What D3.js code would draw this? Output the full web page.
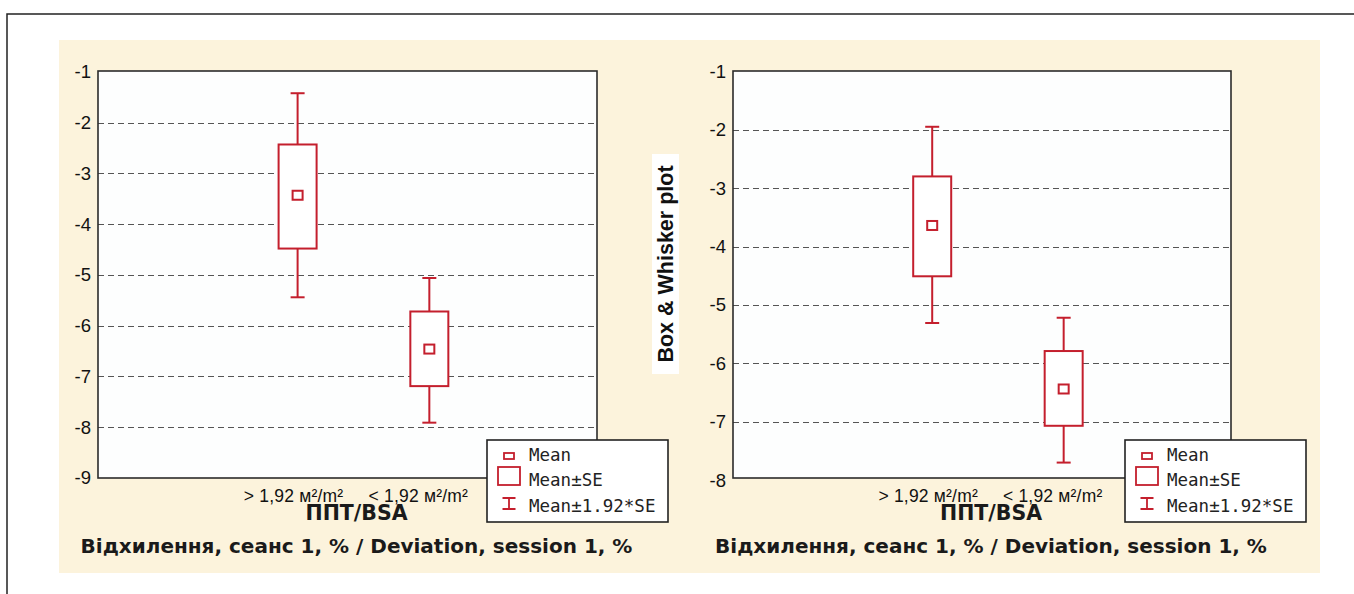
<!DOCTYPE html>
<html>
<head>
<meta charset="utf-8">
<script src="https://cdn.jsdelivr.net/npm/d3@7"></script>
<style>
	body { margin: 0; background: #fff; }
	svg { display: block; }
</style>
</head>
<body>
<div id="main"></div>
<script>
var WIDTH = 1354, HEIGHT = 594;

// categories and tick labels
var categories = ["> 1,92 м²/m²", "< 1,92 м²/m²"];
var legendLabels = ["Mean", "Mean±SE", "Mean±1.92*SE"];
var leftTicks = [-1, -2, -3, -4, -5, -6, -7, -8, -9];
var rightTicks = [-1, -2, -3, -4, -5, -6, -7, -8];

// left chart values
var leftMean   = [-3.43, -6.46];
var leftSeHi   = [-2.43, -5.72];
var leftSeLo   = [-4.48, -7.19];
var leftCiHi   = [-1.42, -5.06];
var leftCiLo   = [-5.44, -7.91];

// right chart values
var rightMean  = [-3.64, -6.44];
var rightSeHi  = [-2.80, -5.79];
var rightSeLo  = [-4.51, -7.07];
var rightCiHi  = [-1.95, -5.22];
var rightCiLo  = [-5.31, -7.70];

var RED = "#c41f2d";
var xTitle = "ППТ/BSA";
var subTitle = "Відхилення, сеанс 1, % / Deviation, session 1, %";

var svg = d3.select("#main").append("svg")
	.attr("width", WIDTH)
	.attr("height", HEIGHT);

// outer frame
svg.append("rect")
	.attr("x", 7).attr("y", 14)
	.attr("width", WIDTH + 20).attr("height", HEIGHT + 20)
	.attr("fill", "#fff")
	.attr("stroke", "#222")
	.attr("stroke-width", 1.5);

// beige panel
svg.append("rect")
	.attr("x", 59).attr("y", 40)
	.attr("width", 1261).attr("height", 533)
	.attr("fill", "#fcf3dc");

function drawPanel(p) {
	var g = svg.append("g");
	var w = p.x1 - p.x0;

	var y = d3.scaleLinear().domain([p.ticks[p.ticks.length - 1], -1]).range([p.yBottom, p.yTop]);
	var x = d3.scalePoint().domain(categories).range([p.x0 + 0.4 * w, p.x0 + 0.664 * w]);
	var xl = d3.scalePoint().domain(categories).range([p.x0 + 0.392 * w, p.x0 + 0.642 * w]);

	// plot area
	g.append("rect")
		.attr("x", p.x0).attr("y", p.fTop)
		.attr("width", w).attr("height", p.fBottom - p.fTop)
		.attr("fill", "#fdfefe");

	// grid
	g.append("g").selectAll("line")
		.data(p.ticks.slice(1, -1))
		.enter().append("line")
			.attr("x1", p.x0).attr("x2", p.x1)
			.attr("y1", function(d) { return Math.round(y(d)) + 0.5; })
			.attr("y2", function(d) { return Math.round(y(d)) + 0.5; })
			.attr("stroke", "#555")
			.attr("stroke-width", 1.2)
			.attr("stroke-dasharray", "6,4");

	g.append("rect")
		.attr("x", p.x0).attr("y", p.fTop)
		.attr("width", w).attr("height", p.fBottom - p.fTop)
		.attr("fill", "none")
		.attr("stroke", "#2b2b2b")
		.attr("stroke-width", 1.6);

	// y axis labels
	var yAxis = d3.axisLeft(y).tickValues(p.ticks).tickSize(0).tickPadding(7)
		.tickFormat(function(d) { return "-" + Math.abs(d); });
	var ax = g.append("g")
		.attr("transform", "translate(" + p.x0 + ",0)")
		.call(yAxis);
	ax.select(".domain").remove();
	ax.selectAll("text")
		.attr("font-family", "Liberation Sans, Arial, sans-serif")
		.attr("font-size", "18.5px")
		.attr("fill", "#111");

	// x labels
	g.append("g").selectAll("text")
		.data(categories)
		.enter().append("text")
			.attr("x", function(d) { return xl(d); })
			.attr("y", p.fBottom + 24)
			.attr("text-anchor", "middle")
			.attr("font-family", "Liberation Sans, Arial, sans-serif")
			.attr("font-size", "17.5px")
			.attr("letter-spacing", "0.2px")
			.attr("fill", "#111")
			.text(function(d) { return d; });

	// boxes
	var rows = categories.map(function(c, i) {
		return { c: c, mean: p.mean[i], seHi: p.seHi[i], seLo: p.seLo[i], ciHi: p.ciHi[i], ciLo: p.ciLo[i] };
	});
	var box = g.append("g").selectAll("g").data(rows).enter().append("g");
	var BW = 38, CW = 14;

	box.append("line")
		.attr("x1", function(d) { return x(d.c); }).attr("x2", function(d) { return x(d.c); })
		.attr("y1", function(d) { return y(d.ciHi); }).attr("y2", function(d) { return y(d.ciLo); })
		.attr("stroke", RED).attr("stroke-width", 2);
	box.append("line")
		.attr("x1", function(d) { return x(d.c) - CW / 2; }).attr("x2", function(d) { return x(d.c) + CW / 2; })
		.attr("y1", function(d) { return y(d.ciHi); }).attr("y2", function(d) { return y(d.ciHi); })
		.attr("stroke", RED).attr("stroke-width", 2);
	box.append("line")
		.attr("x1", function(d) { return x(d.c) - CW / 2; }).attr("x2", function(d) { return x(d.c) + CW / 2; })
		.attr("y1", function(d) { return y(d.ciLo); }).attr("y2", function(d) { return y(d.ciLo); })
		.attr("stroke", RED).attr("stroke-width", 2);
	box.append("rect")
		.attr("x", function(d) { return x(d.c) - BW / 2; })
		.attr("y", function(d) { return y(d.seHi); })
		.attr("width", BW)
		.attr("height", function(d) { return y(d.seLo) - y(d.seHi); })
		.attr("fill", "#fff").attr("stroke", RED).attr("stroke-width", 2);
	box.append("rect")
		.attr("x", function(d) { return x(d.c) - 5; })
		.attr("y", function(d) { return y(d.mean) - 4.5; })
		.attr("width", 10).attr("height", 9)
		.attr("fill", "#fff").attr("stroke", RED).attr("stroke-width", 2);

	// legend
	var lx = p.legendX, ly = 440;
	var lg = g.append("g").attr("transform", "translate(" + lx + "," + ly + ")");
	lg.append("rect")
		.attr("width", 181).attr("height", 82)
		.attr("fill", "#fff").attr("stroke", "#222").attr("stroke-width", 1.6);
	lg.append("rect")
		.attr("x", 17).attr("y", 13).attr("width", 10).attr("height", 6)
		.attr("fill", "none").attr("stroke", RED).attr("stroke-width", 1.8);
	lg.append("rect")
		.attr("x", 11).attr("y", 27).attr("width", 22).attr("height", 18)
		.attr("fill", "none").attr("stroke", RED).attr("stroke-width", 1.8);
	lg.append("path")
		.attr("d", "M15.5,58 H28.5 M22,58 V69 M15.5,69 H28.5")
		.attr("fill", "none").attr("stroke", RED).attr("stroke-width", 1.8);
	lg.selectAll("text.leg")
		.data(legendLabels)
		.enter().append("text")
			.attr("class", "leg")
			.attr("x", 42)
			.attr("y", function(d, i) { return [15, 40, 66][i]; })
			.attr("dy", "0.36em")
			.attr("font-family", "DejaVu Sans Mono, monospace")
			.attr("font-size", "17.5px")
			.attr("fill", "#222")
			.text(function(d) { return d; });

	// titles
	var cx = (p.x0 + p.x1) / 2 + 9;
	g.append("text")
		.attr("x", cx).attr("y", 520)
		.attr("text-anchor", "middle")
		.attr("font-family", "DejaVu Sans, sans-serif")
		.attr("font-weight", "bold")
		.attr("font-size", "20.5px")
		.attr("fill", "#1a1a1a")
		.text(xTitle);
	g.append("text")
		.attr("x", cx).attr("y", 553)
		.attr("text-anchor", "middle")
		.attr("font-family", "DejaVu Sans, sans-serif")
		.attr("font-weight", "bold")
		.attr("font-size", "20px")
		.attr("fill", "#1a1a1a")
		.text(subTitle);
}

drawPanel({
	x0: 98, x1: 597, fTop: 71, fBottom: 478, yTop: 71.9, yBottom: 478,
	ticks: leftTicks, legendX: 487,
	mean: leftMean, seHi: leftSeHi, seLo: leftSeLo, ciHi: leftCiHi, ciLo: leftCiLo
});

drawPanel({
	x0: 733, x1: 1231, fTop: 71, fBottom: 478, yTop: 71.3, yBottom: 480.1,
	ticks: rightTicks, legendX: 1125,
	mean: rightMean, seHi: rightSeHi, seLo: rightSeLo, ciHi: rightCiHi, ciLo: rightCiLo
});

// vertical label between the charts
svg.append("rect")
	.attr("x", 652).attr("y", 154)
	.attr("width", 27).attr("height", 220)
	.attr("fill", "#fff");
svg.append("text")
	.attr("transform", "translate(673,264) rotate(-90)")
	.attr("text-anchor", "middle")
	.attr("font-family", "Liberation Sans, Arial, sans-serif")
	.attr("font-weight", "bold")
	.attr("font-size", "21.5px")
	.attr("fill", "#111")
	.text("Box & Whisker plot");
</script>
</body>
</html>
